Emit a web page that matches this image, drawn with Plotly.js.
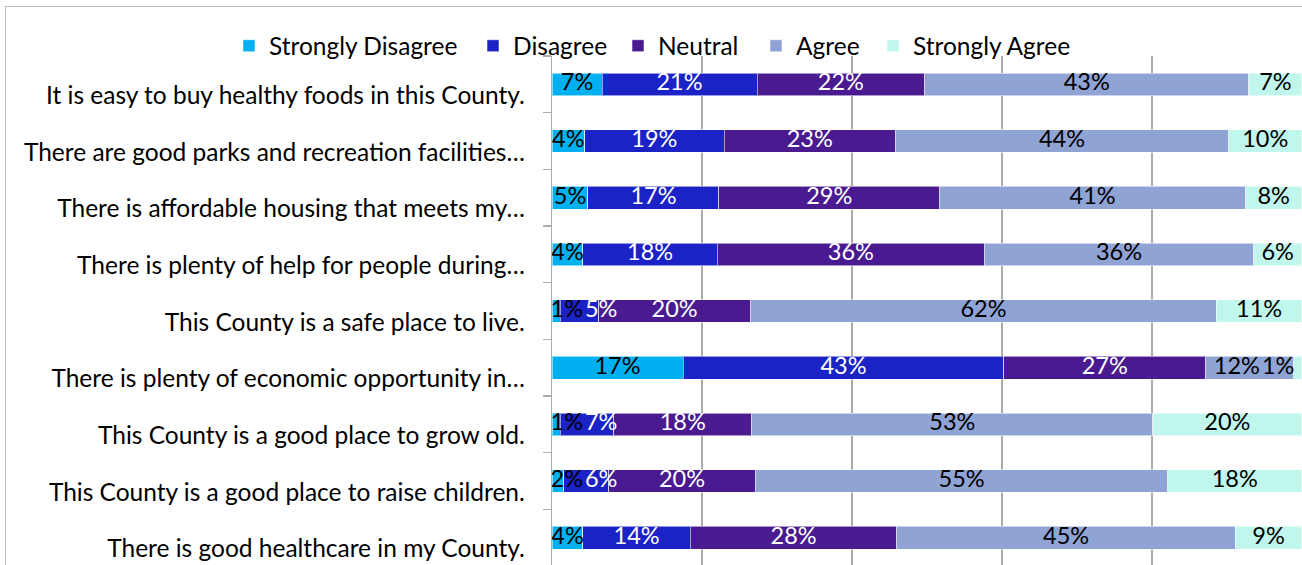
<!DOCTYPE html>
<html>
<head>
<meta charset="utf-8">
<script src="https://cdn.plot.ly/plotly-3.0.1.min.js"></script>
<style>
  html, body { margin: 0; padding: 0; background: #ffffff; overflow: hidden; width: 1302px; height: 565px; }
  #chart { position: absolute; left: 0; top: 0; width: 1302px; height: 580px; }
  #frame { position: absolute; left: 5px; top: 6px; width: 1400px; height: 700px;
           border-left: 1.5px solid #BDBDBD; border-top: 1.5px solid #BDBDBD; pointer-events: none; }
</style>
</head>
<body>
<div id="chart"></div>
<div id="frame"></div>
<script>
const categories = [
  "It is easy to buy healthy foods in this County.",
  "There are good parks and recreation facilities\u2026",
  "There is affordable housing that meets my\u2026",
  "There is plenty of help for people during\u2026",
  "This County is a safe place to live.",
  "There is plenty of economic opportunity in\u2026",
  "This County is a good place to grow old.",
  "This County is a good place to raise children.",
  "There is good healthcare in my County."
];
const seriesNames = ["Strongly Disagree", "Disagree", "Neutral", "Agree", "Strongly Agree"];
const stronglyDisagree = [6.67, 4.36, 4.80, 4.13, 1.12, 17.47, 1.12, 1.56, 4.13];
const disagree         = [20.67, 18.58, 17.47, 17.90, 5.10, 42.80, 7.10, 6.00, 14.32];
const neutral          = [22.36, 22.85, 29.42, 35.64, 20.27, 26.89, 18.44, 19.56, 27.55];
const agree            = [43.24, 44.44, 40.80, 35.90, 62.12, 11.78, 53.47, 55.00, 45.12];
const stronglyAgree    = [7.06, 9.77, 7.51, 6.40, 11.39, 1.06, 19.87, 17.87, 8.88];

const seriesValues = [stronglyDisagree, disagree, neutral, agree, stronglyAgree];
const colors = ["#00B0F0", "#1B22C6", "#4A1B90", "#8FA3D4", "#C0F6EC"];
const textColors = ["#000000", "#ffffff", "#ffffff", "#000000", "#000000"];
const FONT = "Lato, 'Open Sans', sans-serif";
const LABEL_SIZE = 23.5;
const X_MAX = 100.02;

const margin = { l: 552, r: 0, t: 56, b: 14 };
const figW = 1302;
const plotW = figW - margin.l - margin.r;
const pxPerUnit = plotW / X_MAX;

// measure label widths to keep data labels from colliding (like the original's label placement)
const ctx = document.createElement("canvas").getContext("2d");
ctx.font = LABEL_SIZE + "px Lato";
function widthUnits(t) { return ctx.measureText(t).width / pxPerUnit; }

const nSeries = seriesValues.length;
const labelX = seriesValues.map(() => []);
const labelText = seriesValues.map(s => s.map(v => Math.round(v) + "%"));
const gap = 2 / pxPerUnit;
for (let r = 0; r < categories.length; r++) {
  let cum = 0;
  const c = [], half = [];
  for (let i = 0; i < nSeries; i++) {
    const v = seriesValues[i][r];
    c.push(cum + v / 2);
    half.push(widthUnits(labelText[i][r]) / 2);
    cum += v;
  }
  c[0] = Math.max(c[0], half[0] - 0.2);
  for (let i = 1; i < nSeries; i++) c[i] = Math.max(c[i], c[i-1] + half[i-1] + gap + half[i]);
  c[nSeries-1] = Math.min(c[nSeries-1], 100 - half[nSeries-1] - 1.0);
  for (let i = nSeries - 2; i >= 0; i--) c[i] = Math.min(c[i], c[i+1] - half[i+1] - gap - half[i]);
  for (let i = 0; i < nSeries; i++) labelX[i].push(c[i]);
}

const legendIds = ["legend", "legend2", "legend3", "legend4", "legend5"];
// pixel x where each legend entry's text begins in the original
const legendTextStartPx = [269, 513, 658, 796, 913];

const barTraces = seriesNames.map((name, i) => ({
  type: "bar",
  orientation: "h",
  name: name,
  legend: legendIds[i],
  y: categories,
  x: seriesValues[i],
  marker: { color: colors[i], line: { color: "rgba(255,255,255,0.55)", width: 1 } },
  textposition: "none",
  hoverinfo: "name+x"
}));

const labelTraces = seriesNames.map((name, i) => ({
  type: "scatter",
  mode: "text",
  showlegend: false,
  y: categories,
  x: labelX[i],
  text: labelText[i],
  textposition: "middle center",
  textfont: { family: FONT, size: LABEL_SIZE, color: textColors[i] },
  cliponaxis: false,
  hoverinfo: "skip"
}));

const layout = {
  width: figW,
  height: 580,
  margin: { l: margin.l, r: margin.r, t: margin.t, b: margin.b, pad: 0 },
  barmode: "stack",
  bargap: 0.6,
  paper_bgcolor: "#ffffff",
  plot_bgcolor: "#ffffff",
  font: { family: FONT, size: 20, color: "#000000" },
  showlegend: true,
  xaxis: {
    range: [0, X_MAX],
    showticklabels: false,
    showgrid: true,
    gridcolor: "#ABABAB",
    gridwidth: 1.3,
    dtick: 20,
    tick0: 0,
    zeroline: false,
    showline: false,
    ticks: "",
    fixedrange: true
  },
  yaxis: {
    type: "category",
    autorange: "reversed",
    showline: true,
    linecolor: "#ABABAB",
    linewidth: 1.3,
    ticks: "outside",
    tickson: "boundaries",
    ticklen: 8,
    tickcolor: "#ABABAB",
    tickwidth: 1.3,
    ticklabelstandoff: 21,
    ticklabelshift: -11,
    showgrid: false,
    tickfont: { family: FONT, size: 24.5, color: "#000000" },
    fixedrange: true
  }
};

legendIds.forEach((id, i) => {
  layout[id] = {
    orientation: "h",
    x: (legendTextStartPx[i] - 40 - margin.l) / plotW,
    xanchor: "left",
    y: 1.02, yanchor: "middle",
    bgcolor: "rgba(0,0,0,0)",
    font: { family: FONT, size: 24.5, color: "#000000" },
    itemclick: false
  };
});

Plotly.newPlot("chart", barTraces.concat(labelTraces), layout, { displayModeBar: false, staticPlot: true });
</script>
</body>
</html>
